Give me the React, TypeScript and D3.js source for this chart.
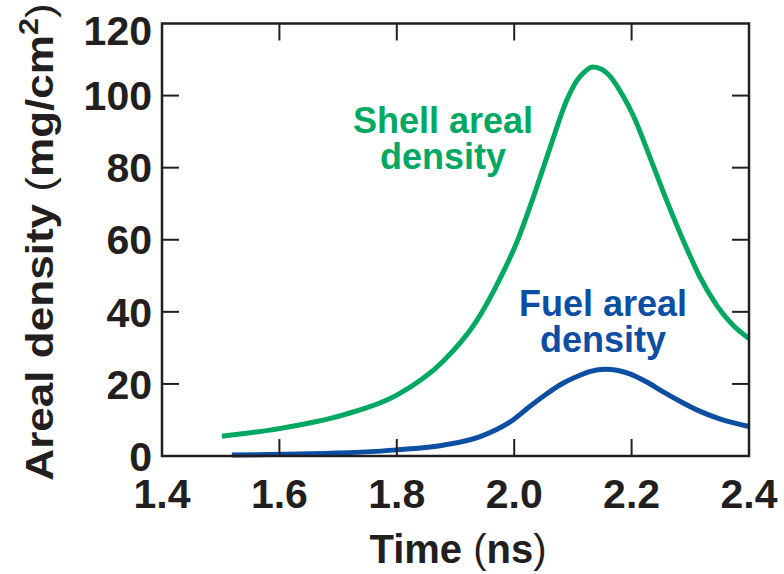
import React from "react";
import * as d3 from "d3";

const shellTime = [1.502, 1.6, 1.709, 1.8, 1.879, 1.936, 1.976, 2.005, 2.033, 2.061, 2.089, 2.107, 2.12, 2.134, 2.15, 2.165, 2.185, 2.203, 2.231, 2.26, 2.288, 2.316, 2.345, 2.372, 2.4];
const shellValue = [5.5, 7.6, 11.4, 16.9, 26.3, 37.5, 49.3, 59.5, 72.0, 85.5, 98.5, 104.2, 106.6, 107.9, 107.2, 105.0, 100.0, 94.4, 83.0, 70.8, 59.8, 49.8, 41.8, 36.4, 32.6];

const fuelTime = [1.519, 1.652, 1.8, 1.879, 1.942, 1.998, 2.027, 2.055, 2.08, 2.112, 2.13, 2.155, 2.175, 2.197, 2.225, 2.254, 2.28, 2.311, 2.35, 2.4];
const fuelValue = [0.3, 0.6, 1.7, 3.0, 5.4, 10.0, 13.8, 17.2, 19.9, 22.4, 23.5, 24.1, 23.8, 22.8, 20.6, 17.8, 15.4, 12.8, 10.3, 8.2];

const xTicks = [1.4, 1.6, 1.8, 2.0, 2.2, 2.4];
const yTicks = [0, 20, 40, 60, 80, 100, 120];

const GREEN = "#00A862";
const BLUE = "#0B4EA2";
const INK = "#231F20";
const FONT = "'Liberation Sans', Arial, Helvetica, sans-serif";

export default function App() {
  const x = d3.scaleLinear().domain([1.4, 2.4]).range([162, 749]);
  const y = d3.scaleLinear().domain([0, 120]).range([456, 23.5]);

  const line = d3
    .line<[number, number]>()
    .x((d) => x(d[0]))
    .y((d) => y(d[1]))
    .curve(d3.curveMonotoneX);

  const shell: [number, number][] = shellTime.map((t, i) => [t, shellValue[i]]);
  const fuel: [number, number][] = fuelTime.map((t, i) => [t, fuelValue[i]]);

  const x0 = x.range()[0];
  const x1 = x.range()[1];
  const y0 = y.range()[0];
  const y1 = y.range()[1];
  const tickLen = 17;

  return (
    <svg
      width={784}
      height={574}
      style={{ position: "absolute", left: 0, top: 0, display: "block", background: "#fff" }}
      fontFamily={FONT}
    >
      <path d={line(shell) || ""} fill="none" stroke={GREEN} strokeWidth={5} />
      <path d={line(fuel) || ""} fill="none" stroke={BLUE} strokeWidth={5} />

      {/* frame */}
      <rect x={x0} y={y1} width={x1 - x0} height={y0 - y1} fill="none" stroke={INK} strokeWidth={2.5} />

      {/* ticks */}
      {xTicks.slice(1, -1).map((t) => (
        <g key={"xt" + t}>
          <line x1={x(t)} x2={x(t)} y1={y0} y2={y0 - tickLen} stroke={INK} strokeWidth={2} />
          <line x1={x(t)} x2={x(t)} y1={y1} y2={y1 + tickLen} stroke={INK} strokeWidth={2} />
        </g>
      ))}
      {yTicks.slice(1, -1).map((v) => (
        <g key={"yt" + v}>
          <line x1={x0} x2={x0 + tickLen} y1={y(v)} y2={y(v)} stroke={INK} strokeWidth={2} />
          <line x1={x1} x2={x1 - tickLen} y1={y(v)} y2={y(v)} stroke={INK} strokeWidth={2} />
        </g>
      ))}

      {/* tick labels */}
      {xTicks.map((t) => (
        <text key={"xl" + t} x={x(t)} y={508} textAnchor="middle" fontSize={41} fontWeight="bold" fill={INK}>
          {d3.format(".1f")(t)}
        </text>
      ))}
      {yTicks.map((v) => (
        <text
          key={"yl" + v}
          x={152}
          y={Math.max(y(v) + 14.7, 45)}
          textAnchor="end"
          fontSize={41}
          fontWeight="bold"
          fill={INK}
        >
          {v}
        </text>
      ))}

      {/* axis titles */}
      <text x={458} y={563} textAnchor="middle" fontSize={40} fontWeight="bold" fill={INK}>
        Time <tspan fontWeight="normal">(</tspan>ns<tspan fontWeight="normal">)</tspan>
      </text>
      <text
        transform="translate(53,242) rotate(-90) scale(1.13,1)"
        textAnchor="middle"
        fontSize={39}
        fontWeight="bold"
        fill={INK}
      >
        Areal density <tspan fontWeight="normal">(</tspan>mg/cm
        <tspan fontSize={27} dy={-15}>2</tspan>
        <tspan fontWeight="normal" dy={15}>)</tspan>
      </text>

      {/* series labels */}
      <text x={443} y={133} textAnchor="middle" fontSize={36} fontWeight="bold" fill={GREEN}>
        Shell areal
      </text>
      <text x={443} y={169} textAnchor="middle" fontSize={36} fontWeight="bold" fill={GREEN}>
        density
      </text>
      <text x={603} y={316} textAnchor="middle" fontSize={36} fontWeight="bold" fill={BLUE}>
        Fuel areal
      </text>
      <text x={603} y={352} textAnchor="middle" fontSize={36} fontWeight="bold" fill={BLUE}>
        density
      </text>
    </svg>
  );
}
